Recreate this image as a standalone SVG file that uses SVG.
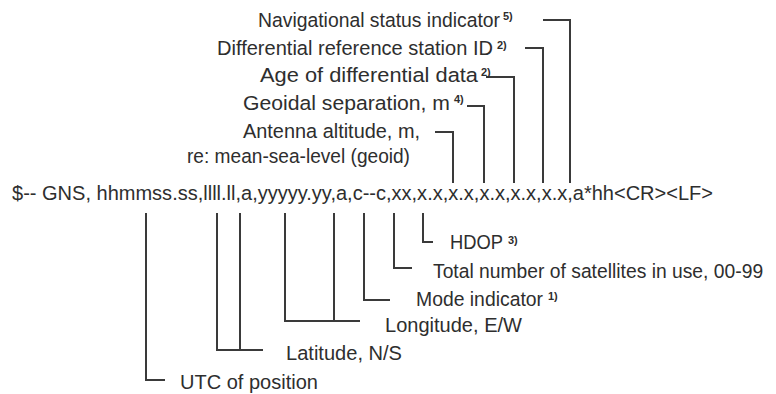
<svg xmlns="http://www.w3.org/2000/svg" width="776" height="394" viewBox="0 0 776 394">
<style>
text{font-family:"Liberation Sans",Arial,sans-serif;fill:#2e2e2e}
.l{font-size:19.3px}
.s{font-size:11px;font-weight:bold}
.c{fill:none;stroke:#3a3a3a;stroke-width:2}
</style>
<rect width="776" height="394" fill="#ffffff"/>
<g id="connectors">
<polyline class="c" points="543,20 570,20 570,183"/>
<polyline class="c" points="525,48 543,48 543,183"/>
<polyline class="c" points="486,77 514,77 514,183"/>
<polyline class="c" points="467,106 484,106 484,183"/>
<polyline class="c" points="435,132 453,132 453,183"/>
<polyline class="c" points="423,213 423,242 433,242"/>
<polyline class="c" points="394,213 394,268 412,268"/>
<polyline class="c" points="364,213 364,300 390,300"/>
<polyline class="c" points="285,213 285,321 360,321"/>
<line class="c" x1="334" y1="213" x2="334" y2="321"/>
<polyline class="c" points="217,213 217,350 263,350"/>
<line class="c" x1="240" y1="213" x2="240" y2="350"/>
<polyline class="c" points="146,213 146,380 165,380"/>
</g>
<g id="sentence"><text class="l" x="12" y="200" textLength="701" lengthAdjust="spacingAndGlyphs">$-- GNS, hhmmss.ss,llll.ll,a,yyyyy.yy,a,c--c,xx,x.x,x.x,x.x,x.x,x.x,a*hh&lt;CR&gt;&lt;LF&gt;</text></g>
<g id="nav-status"><text class="l" x="258" y="27" textLength="242" lengthAdjust="spacingAndGlyphs">Navigational status indicator</text><text class="s" x="503" y="20">5)</text></g>
<g id="diff-station"><text class="l" x="217" y="55" textLength="276" lengthAdjust="spacingAndGlyphs">Differential reference station ID</text><text class="s" x="497" y="49">2)</text></g>
<g id="age-diff"><text class="l" x="260" y="82" textLength="218" lengthAdjust="spacingAndGlyphs">Age of differential data</text><text class="s" x="481" y="76">2)</text></g>
<g id="geoidal"><text class="l" x="243" y="110" textLength="207" lengthAdjust="spacingAndGlyphs">Geoidal separation, m</text><text class="s" x="454" y="103">4)</text></g>
<g id="antenna"><text class="l" x="243" y="138" textLength="177" lengthAdjust="spacingAndGlyphs">Antenna altitude, m,</text><text class="l" x="187" y="163" textLength="223" lengthAdjust="spacingAndGlyphs">re: mean-sea-level (geoid)</text></g>
<g id="hdop"><text class="l" x="450" y="249" textLength="53" lengthAdjust="spacingAndGlyphs">HDOP</text><text class="s" x="508" y="244">3)</text></g>
<g id="total-sats"><text class="l" x="433" y="278">Total number of satellites in use, 00-99</text></g>
<g id="mode"><text class="l" x="416" y="306" textLength="127" lengthAdjust="spacingAndGlyphs">Mode indicator</text><text class="s" x="548" y="300">1)</text></g>
<g id="longitude"><text class="l" x="385" y="332" textLength="137" lengthAdjust="spacingAndGlyphs">Longitude, E/W</text></g>
<g id="latitude"><text class="l" x="286" y="360" textLength="116" lengthAdjust="spacingAndGlyphs">Latitude, N/S</text></g>
<g id="utc"><text class="l" x="180" y="389" textLength="138" lengthAdjust="spacingAndGlyphs">UTC of position</text></g>
</svg>
